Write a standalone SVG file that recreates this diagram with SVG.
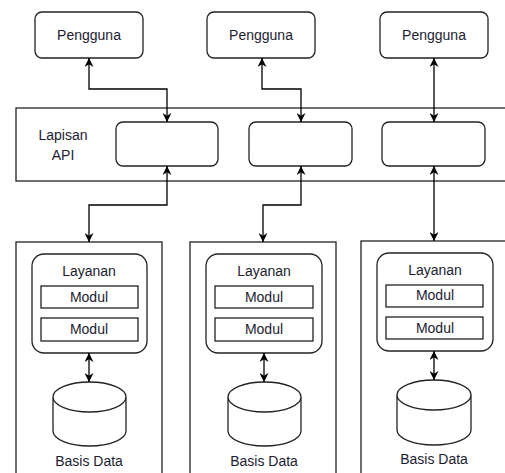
<svg xmlns="http://www.w3.org/2000/svg" width="505" height="473" viewBox="0 0 505 473">
<style>
.box{fill:#fff;stroke:#222;stroke-width:1.3}
.t{font-family:"Liberation Sans",Arial,sans-serif;font-size:14px;fill:#1c1c30;text-anchor:middle}
.c{fill:none;stroke:#000;stroke-width:1.3;marker-start:url(#ah);marker-end:url(#ah)}
</style>
<defs>
<marker id="ah" viewBox="0 0 10 10" refX="10" refY="5" markerWidth="9" markerHeight="9" markerUnits="userSpaceOnUse" orient="auto-start-reverse">
<path d="M0,0 L10,5 L0,10 L3,5 z" fill="#000"/>
</marker>
</defs>
<rect width="505" height="473" fill="#fff"/>
<g id="api-layer">
<rect class="box" x="16" y="108" width="495" height="73"/>
<text class="t" x="63" y="140">Lapisan</text>
<text class="t" x="63" y="160">API</text>
</g>
<g id="api1"><rect class="box" x="116" y="122" width="102" height="44" rx="7"/></g>
<g id="api2"><rect class="box" x="249" y="122" width="103" height="44" rx="7"/></g>
<g id="api3"><rect class="box" x="382" y="122" width="103" height="44" rx="7"/></g>
<g id="user1"><rect class="box" x="35" y="12" width="108" height="46" rx="7"/><text class="t" x="89" y="40">Pengguna</text></g>
<g id="user2"><rect class="box" x="207" y="12" width="108" height="46" rx="7"/><text class="t" x="261" y="40">Pengguna</text></g>
<g id="user3"><rect class="box" x="380" y="12" width="108" height="46" rx="7"/><text class="t" x="434" y="40">Pengguna</text></g>
<g id="service1">
<rect class="box" x="16" y="242" width="146" height="240"/>
<rect class="box" x="32" y="254" width="115" height="99" rx="12"/>
<text class="t" x="89" y="276">Layanan</text>
<rect class="box" x="41" y="286" width="97" height="22"/>
<text class="t" x="89" y="302">Modul</text>
<rect class="box" x="41" y="318" width="97" height="23"/>
<text class="t" x="89" y="334">Modul</text>
<path class="box" d="M53,397 a36.5,15 0 0 1 73,0 v34 a36.5,15 0 0 1 -73,0 z M53,397 a36.5,15 0 0 0 73,0"/>
<text class="t" x="89" y="466">Basis Data</text>
</g>
<g id="service2">
<rect class="box" x="190" y="242" width="146" height="240"/>
<rect class="box" x="206" y="254" width="116" height="99" rx="12"/>
<text class="t" x="264" y="276">Layanan</text>
<rect class="box" x="215" y="286" width="98" height="22"/>
<text class="t" x="264" y="302">Modul</text>
<rect class="box" x="215" y="318" width="98" height="23"/>
<text class="t" x="264" y="334">Modul</text>
<path class="box" d="M228,397 a36.5,15 0 0 1 73,0 v34 a36.5,15 0 0 1 -73,0 z M228,397 a36.5,15 0 0 0 73,0"/>
<text class="t" x="264" y="466">Basis Data</text>
</g>
<g id="service3">
<rect class="box" x="361" y="241" width="150" height="240"/>
<rect class="box" x="377" y="253" width="116" height="98" rx="12"/>
<text class="t" x="435" y="275">Layanan</text>
<rect class="box" x="386" y="285" width="97" height="22"/>
<text class="t" x="435" y="300">Modul</text>
<rect class="box" x="386" y="317" width="97" height="22"/>
<text class="t" x="435" y="333">Modul</text>
<path class="box" d="M397,395 a37,15 0 0 1 74,0 v35 a37,15 0 0 1 -74,0 z M397,395 a37,15 0 0 0 74,0"/>
<text class="t" x="434" y="464">Basis Data</text>
</g>
<g id="connectors">
<path class="c" d="M89,58 V89 H167 V122"/>
<path class="c" d="M262,58 V89 H301 V122"/>
<path class="c" d="M434,58 V122"/>
<path class="c" d="M167,166 V205 H89 V242"/>
<path class="c" d="M301,166 V205 H263 V242"/>
<path class="c" d="M434,166 V241"/>
<path class="c" d="M89,353 V382"/>
<path class="c" d="M264,353 V382"/>
<path class="c" d="M434,351 V380"/>
</g>
</svg>
